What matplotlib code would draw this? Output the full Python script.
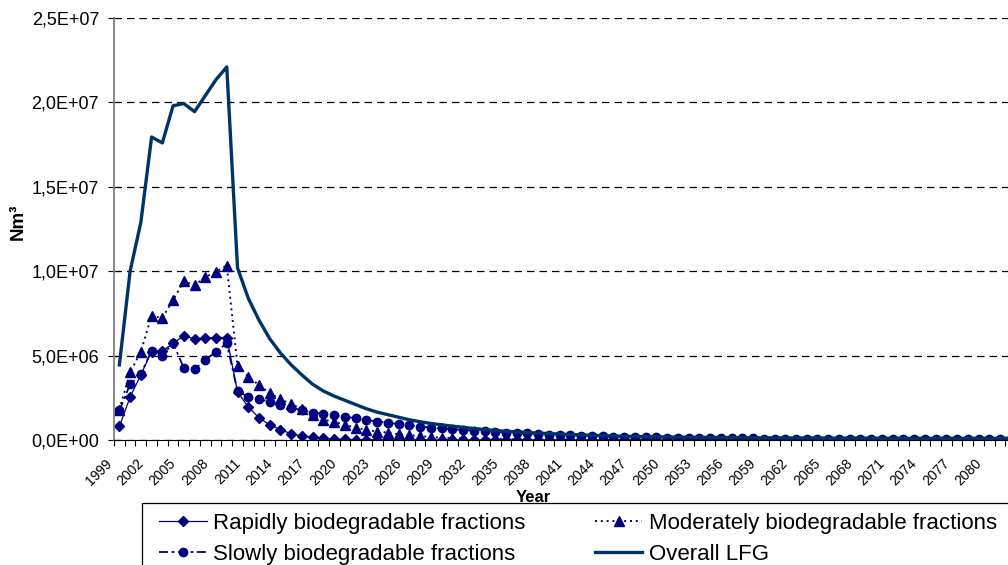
import numpy as np
import matplotlib.pyplot as plt
from matplotlib.patches import Rectangle
from matplotlib.ticker import FuncFormatter, MultipleLocator
from matplotlib.transforms import ScaledTranslation

plt.rcParams['font.family'] = ['Liberation Sans', 'DejaVu Sans']

# Anos (categorias) 1999-2083, valores em milhoes de Nm3
years = list(range(1999, 2084))

rapid = [0.80, 2.55, 3.86, 5.24, 5.28, 5.72, 6.18, 5.98, 6.05, 6.07,
         6.07, 2.85, 1.96, 1.32, 0.89, 0.61, 0.37, 0.24, 0.15, 0.09,
         0.05, 0.03, 0.02, 0.01, 0.01, 0.005, 0.003, 0.002, 0.001, 0.0,
         0.0, 0.0, 0.0, 0.0, 0.0, 0.0, 0.0, 0.0, 0.0, 0.0,
         0.0, 0.0, 0.0, 0.0, 0.0, 0.0, 0.0, 0.0, 0.0, 0.0,
         0.0, 0.0, 0.0, 0.0, 0.0, 0.0, 0.0, 0.0, 0.0, 0.0,
         0.0, 0.0, 0.0, 0.0, 0.0, 0.0, 0.0, 0.0, 0.0, 0.0,
         0.0, 0.0, 0.0, 0.0, 0.0, 0.0, 0.0, 0.0, 0.0, 0.0,
         0.0, 0.0, 0.0, 0.0, 0.0]

moderate = [1.80, 4.00, 5.24, 7.36, 7.23, 8.30, 9.40, 9.18, 9.64, 9.98,
            10.33, 4.40, 3.76, 3.25, 2.78, 2.42, 2.12, 1.85, 1.50, 1.20,
            1.09, 0.89, 0.73, 0.60, 0.50, 0.44, 0.34, 0.28, 0.24, 0.17,
            0.14, 0.12, 0.10, 0.08, 0.07, 0.06, 0.05, 0.04, 0.035, 0.03,
            0.025, 0.02, 0.02, 0.015, 0.015, 0.01, 0.01, 0.01, 0.01, 0.01,
            0.01, 0.01, 0.01, 0.01, 0.01, 0.01, 0.01, 0.01, 0.01, 0.01,
            0.01, 0.01, 0.01, 0.01, 0.01, 0.01, 0.01, 0.01, 0.01, 0.01,
            0.01, 0.01, 0.01, 0.01, 0.01, 0.01, 0.01, 0.01, 0.01, 0.01,
            0.01, 0.01, 0.01, 0.01, 0.01]

slow = [1.75, 3.30, 3.90, 5.30, 5.00, 5.75, 4.26, 4.20, 4.73, 5.24,
        5.72, 2.90, 2.55, 2.41, 2.28, 2.08, 1.92, 1.76, 1.62, 1.56,
        1.47, 1.37, 1.30, 1.19, 1.09, 1.03, 0.93, 0.89, 0.79, 0.73,
        0.69, 0.63, 0.60, 0.54, 0.52, 0.47, 0.44, 0.41, 0.39, 0.36,
        0.32, 0.30, 0.28, 0.25, 0.23, 0.22, 0.19, 0.18, 0.17, 0.16,
        0.15, 0.14, 0.13, 0.12, 0.12, 0.11, 0.10, 0.10, 0.09, 0.09,
        0.08, 0.08, 0.08, 0.07, 0.07, 0.07, 0.07, 0.06, 0.06, 0.06,
        0.06, 0.06, 0.05, 0.05, 0.05, 0.05, 0.05, 0.05, 0.05, 0.05,
        0.05, 0.05, 0.05, 0.05, 0.05]

overall = [4.45, 10.00, 12.90, 17.95, 17.60, 19.80, 19.93, 19.45, 20.40, 21.35,
           22.10, 10.20, 8.40, 7.10, 6.00, 5.15, 4.45, 3.85, 3.30, 2.90,
           2.60, 2.35, 2.10, 1.85, 1.65, 1.50, 1.35, 1.20, 1.08, 0.98,
           0.90, 0.82, 0.75, 0.68, 0.62, 0.56, 0.52, 0.48, 0.44, 0.41,
           0.38, 0.35, 0.32, 0.30, 0.28, 0.26, 0.24, 0.22, 0.21, 0.20,
           0.19, 0.18, 0.17, 0.16, 0.16, 0.15, 0.15, 0.14, 0.14, 0.13,
           0.13, 0.13, 0.12, 0.12, 0.12, 0.12, 0.11, 0.11, 0.11, 0.11,
           0.11, 0.10, 0.10, 0.10, 0.10, 0.10, 0.10, 0.10, 0.10, 0.10,
           0.10, 0.10, 0.10, 0.10, 0.10]

x = np.arange(len(years))
navy = '#000080'
lfg = '#003366'
W, H = 1008, 565

fig = plt.figure(figsize=(10.08, 5.65), dpi=100)
# eixo maior que a figura: o grafico original esta cortado a direita
ax = fig.add_axes([114/W, (H-440)/H, 1074/W, 422/H])

ax.plot(x, np.array(rapid)*1e6, color=navy, lw=0.9, ls='-', marker='D', ms=5,
        label='Rapidly biodegradable fractions')
ax.plot(x, np.array(slow)*1e6, color=navy, lw=1.3, ls=(0, (5, 2, 1.5, 2)), marker='o', ms=6,
        label='Slowly biodegradable fractions')
ax.plot(x, np.array(moderate)*1e6, color=navy, lw=1.4, ls=(0, (1, 2)), marker='^', ms=6.5,
        label='Moderately biodegradable fractions')
ax.plot(x, np.array(overall)*1e6, color=lfg, lw=2.4, ls='-',
        label='Overall LFG')

ax.set_xlim(-0.5, 99.5)
ax.set_ylim(0, 2.5e7)
ax.yaxis.set_major_locator(MultipleLocator(5e6))
ax.yaxis.set_major_formatter(FuncFormatter(lambda v, p: ('%.1E' % v).replace('.', ',')))
ax.grid(axis='y', color='black', ls=(0, (6, 4)), lw=0.9)
ax.set_axisbelow(True)

lab_idx = x[:82:3]
ax.set_xticks(lab_idx)
ax.set_xticklabels([str(years[i]) for i in lab_idx], rotation=45, ha='right', va='center',
                   rotation_mode='anchor', fontsize=10)
ax.set_xticks(np.arange(-0.5, 100, 1), minor=True)
ax.tick_params(axis='x', which='major', length=0, pad=15.5)
ax.tick_params(axis='x', which='minor', length=4, width=0.8, direction='out')
ax.tick_params(axis='y', direction='inout', length=8.5, width=0.8, labelsize=13, pad=6.5)
shift = ScaledTranslation(-10/100, 0, fig.dpi_scale_trans)
for lab in ax.get_xticklabels():
    lab.set_transform(lab.get_transform() + shift)

for s in ['top', 'right']:
    ax.spines[s].set_visible(False)
ax.spines['left'].set_color('#808080')
ax.spines['left'].set_linewidth(1.3)
ax.spines['bottom'].set_color('black')
ax.spines['bottom'].set_linewidth(0.8)

fig.text(18/W, 1 - 222/H, 'Nm³', rotation=90, ha='center', va='center',
         fontsize=13.5, fontweight='bold')
fig.text(533/W, 1 - 497/H, 'Year', ha='center', va='center',
         fontsize=12, fontweight='bold')

# moldura da legenda (cortada na borda direita e inferior, como no original)
fig.patches.append(Rectangle((142/W, -0.05), 1.0, (H-503)/H + 0.05, transform=fig.transFigure,
                             fill=False, edgecolor='black', lw=0.9, zorder=5))
leg = fig.legend(loc='upper left', bbox_to_anchor=(159/W, 1 - 513/H), ncol=2,
                 fontsize=16, frameon=False, borderpad=0, borderaxespad=0,
                 handlelength=2.15, handletextpad=0.3, columnspacing=3.1,
                 labelspacing=0.45)

plt.savefig('out.png', dpi=100)
